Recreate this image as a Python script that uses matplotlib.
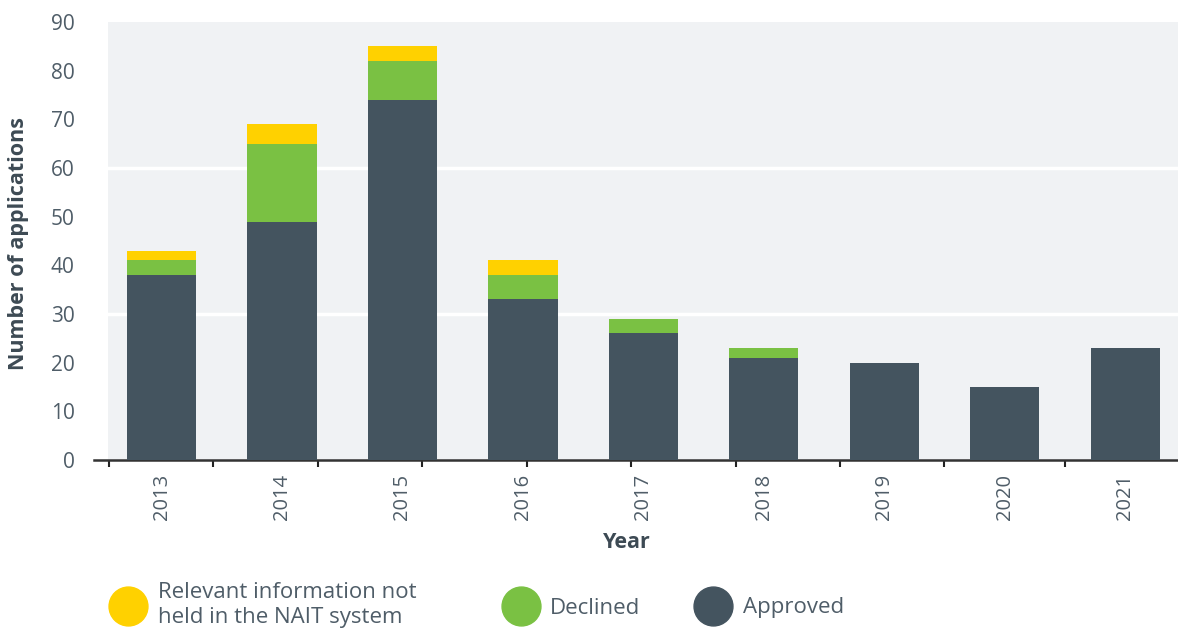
"""Stacked bars: NAIT applications by year and outcome."""
import matplotlib
matplotlib.use("Agg")
import matplotlib.pyplot as plt
from matplotlib.lines import Line2D

years = ["2013", "2014", "2015", "2016", "2017", "2018", "2019", "2020", "2021"]
approved = [38, 49, 74, 33, 26, 21, 20, 15, 23]
declined = [3, 16, 8, 5, 3, 2, 0, 0, 0]
not_held = [2, 4, 3, 3, 0, 0, 0, 0, 0]

yticks = list(range(0, 100, 10))
grid_levels = [30, 60]
# the source chart's x tick marks do not line up with category gaps
xtick_marks = [-0.436, 0.427, 1.30, 2.16, 3.03, 3.90, 4.77, 5.63, 6.49, 7.50]

C_APPROVED = "#44545f"
C_DECLINED = "#7ac143"
C_NOTHELD = "#ffd100"
C_TEXT = "#4f5d68"
C_BG = "#f0f2f4"

plt.rcParams["font.family"] = ["Open Sans", "DejaVu Sans"]

fig = plt.figure(figsize=(11.78, 6.28), dpi=100)
ax = fig.add_axes([108 / 1178, 1 - 460 / 628, 1 - 108 / 1178, (460 - 22) / 628])
ax.set_facecolor(C_BG)

x = list(range(len(years)))
w = 0.573
bottom2 = [a + d for a, d in zip(approved, declined)]
ax.bar(x, approved, w, color=C_APPROVED, zorder=3)
ax.bar(x, declined, w, bottom=approved, color=C_DECLINED, zorder=3)
ax.bar(x, not_held, w, bottom=bottom2, color=C_NOTHELD, zorder=3)

for g in grid_levels:
    ax.axhline(g, color="white", lw=2.5, zorder=2)

ax.set_xlim(-0.444, 8.436)
ax.set_ylim(0, 90)
ax.set_yticks(yticks)
ax.tick_params(axis="y", length=0, pad=24, labelsize=15, labelcolor=C_TEXT)

ax.set_xticks(x)
ax.set_xticklabels(years, rotation=90)
ax.tick_params(axis="x", which="major", length=0, pad=10, labelsize=14.5, labelcolor=C_TEXT)
ax.set_xticks(xtick_marks, minor=True)
ax.tick_params(axis="x", which="minor", length=5, width=1.5, color="#222222")

for s in ["left", "right", "top"]:
    ax.spines[s].set_visible(False)
ax.spines["bottom"].set_color("#333333")
ax.spines["bottom"].set_linewidth(1.8)
ax.spines["bottom"].set_bounds(-0.56, 8.436)

ax.set_ylabel("Number of applications", fontsize=15.5, fontweight="bold", color="#3d4a54")
ax.yaxis.set_label_coords(-0.074, 0.494)
fig.text(627 / 1178, 1 - 543 / 628, "Year", ha="center", va="center",
         fontsize=15.5, fontweight="bold", color="#3d4a54")

# legend
legend_items = [
    (128, C_NOTHELD, 158, "Relevant information not\nheld in the NAIT system"),
    (521, C_DECLINED, 550, "Declined"),
    (713, C_APPROVED, 743, "Approved"),
]
for cx, col, tx, label in legend_items:
    fig.add_artist(Line2D([cx / 1178], [1 - 606 / 628], marker="o", markersize=28,
                          color=col, lw=0, transform=fig.transFigure))
    if "\n" in label:
        fig.text(tx / 1178, 1 - 582 / 628, label, ha="left", va="top",
                 fontsize=16, color=C_TEXT, linespacing=1.25)
    else:
        fig.text(tx / 1178, 1 - 608 / 628, label, ha="left", va="center",
                 fontsize=16, color=C_TEXT)

fig.savefig("out.png", dpi=100)
